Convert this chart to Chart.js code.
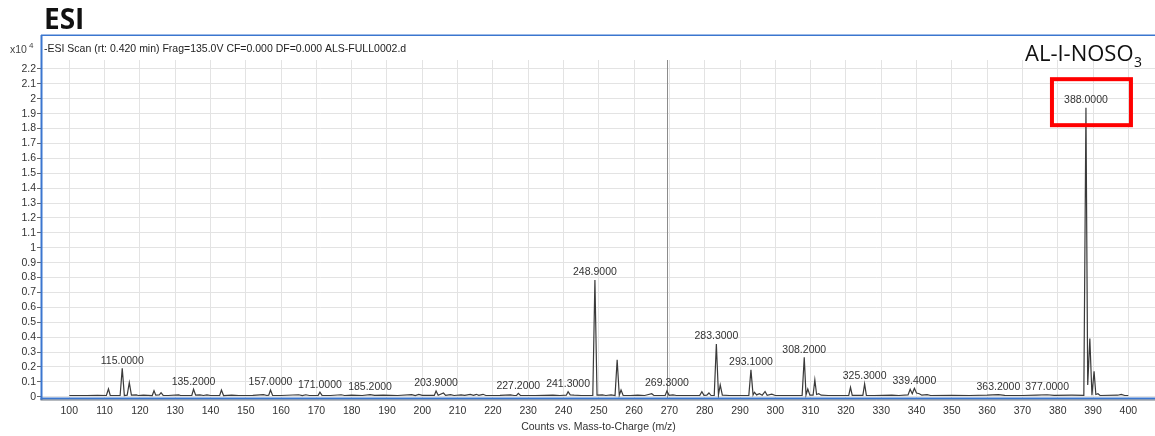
<!DOCTYPE html>
<html>
<head>
<meta charset="utf-8">
<script src="https://cdn.jsdelivr.net/npm/chart.js@4.4.1/dist/chart.umd.min.js"></script>
<style>
  html, body { margin: 0; padding: 0; background: #fff; overflow: hidden; }
  #wrap { width: 1155px; height: 436px; position: relative; }
</style>
</head>
<body>
<div id="wrap"><canvas id="spectrum" width="1155" height="436"></canvas></div>
<script>
// Profile spectrum: m/z positions and abundances (counts, x10^4)
const mzValues = [
  100, 105, 108, 110.5, 111.1, 111.6, 114.4, 115.0, 115.6, 116.4, 117.0, 117.6,
  119, 119.5, 121, 123.5, 124.0, 124.5, 125.5, 126.0, 126.6, 128, 131, 131.5,
  134.7, 135.2, 135.8, 137, 138, 139, 140, 142.6, 143.1, 143.7, 146, 148,
  152, 155, 156, 156.5, 157.0, 157.6, 160, 165, 166, 167, 168, 170.5,
  171.0, 171.6, 174, 177, 178, 180, 183, 185.2, 186.5, 189, 193, 197,
  198, 199, 200, 203.4, 203.9, 204.5, 206, 206.6, 208, 209, 211, 212,
  213.6, 214.5, 215.3, 216, 217.2, 218, 222, 225, 226, 226.7, 227.2, 227.8,
  232, 237, 239, 240.8, 241.3, 241.9, 243, 245, 248.3, 248.9, 249.5, 251,
  252, 253.5, 254.6, 255.2, 255.8, 256.3, 256.9, 259, 261, 263, 265, 265.6,
  268.8, 269.3, 269.9, 271, 272, 275, 278.6, 279.2, 279.8, 280.6, 281.2, 281.8,
  282.7, 283.3, 283.9, 284.4, 285.0, 287, 292.5, 293.1, 293.7, 294.1, 294.7, 295.5,
  296.3, 297.1, 297.7, 299, 300, 304, 307.6, 308.2, 308.7, 309.2, 309.8, 310.7,
  311.2, 311.7, 312.3, 313, 315, 320.8, 321.3, 321.8, 324.8, 325.3, 325.8, 328,
  333, 335, 337.6, 338.2, 338.8, 339.4, 340.0, 340.8, 341.5, 343, 344, 350,
  355, 360, 363.2, 365, 370, 374, 377.0, 379, 384, 387.4, 388.0, 388.5,
  389.1, 389.7, 390.3, 390.8, 391.4, 392, 397, 398, 399, 400
];
const countValues = [
  0.008, 0.008, 0.009, 0.008, 0.052, 0.008, 0.008, 0.190, 0.008, 0.010, 0.095, 0.010,
  0.012, 0.008, 0.010, 0.008, 0.040, 0.010, 0.012, 0.027, 0.009, 0.008, 0.012, 0.008,
  0.008, 0.050, 0.010, 0.012, 0.008, 0.012, 0.008, 0.008, 0.045, 0.008, 0.010, 0.008,
  0.009, 0.014, 0.008, 0.010, 0.045, 0.009, 0.008, 0.013, 0.008, 0.013, 0.008, 0.009,
  0.030, 0.009, 0.008, 0.013, 0.008, 0.010, 0.008, 0.014, 0.009, 0.010, 0.008, 0.014,
  0.008, 0.015, 0.009, 0.009, 0.038, 0.010, 0.025, 0.009, 0.014, 0.008, 0.012, 0.009,
  0.015, 0.009, 0.016, 0.009, 0.016, 0.008, 0.009, 0.012, 0.008, 0.009, 0.023, 0.009,
  0.008, 0.010, 0.008, 0.010, 0.034, 0.012, 0.010, 0.008, 0.008, 0.783, 0.010, 0.012,
  0.008, 0.012, 0.008, 0.248, 0.010, 0.045, 0.009, 0.008, 0.010, 0.008, 0.020, 0.008,
  0.009, 0.038, 0.009, 0.012, 0.008, 0.008, 0.009, 0.034, 0.009, 0.010, 0.025, 0.008,
  0.008, 0.354, 0.012, 0.079, 0.010, 0.008, 0.009, 0.180, 0.012, 0.030, 0.012, 0.020,
  0.010, 0.035, 0.010, 0.017, 0.008, 0.008, 0.009, 0.264, 0.012, 0.052, 0.010, 0.010,
  0.113, 0.015, 0.020, 0.010, 0.008, 0.009, 0.063, 0.009, 0.009, 0.086, 0.009, 0.008,
  0.010, 0.008, 0.012, 0.050, 0.020, 0.057, 0.025, 0.020, 0.010, 0.014, 0.008, 0.009,
  0.008, 0.010, 0.014, 0.009, 0.008, 0.010, 0.013, 0.009, 0.010, 0.009, 1.940, 0.078,
  0.390, 0.010, 0.170, 0.015, 0.020, 0.008, 0.010, 0.016, 0.008, 0.008
];
// Annotated peaks (m/z)
const peakLabelMz = [
  115.0, 135.2, 157.0, 171.0, 185.2, 203.9, 227.2, 241.3, 248.9,
  269.3, 283.3, 293.1, 308.2, 325.3, 339.4, 363.2, 377.0, 388.0
];
const highlightedMz = 388.0;
const cursorMz = 269.3;
const xTickValues = [100, 110, 120, 130, 140, 150, 160, 170, 180, 190, 200, 210, 220, 230, 240, 250,
  260, 270, 280, 290, 300, 310, 320, 330, 340, 350, 360, 370, 380, 390, 400];
const yTickValues = [0, 0.1, 0.2, 0.3, 0.4, 0.5, 0.6, 0.7, 0.8, 0.9, 1, 1.1, 1.2, 1.3, 1.4, 1.5,
  1.6, 1.7, 1.8, 1.9, 2, 2.1, 2.2];

const scanTitle = '-ESI Scan (rt: 0.420 min) Frag=135.0V CF=0.000 DF=0.000 ALS-FULL0002.d';
const panelTitle = 'ESI';
const compoundName = 'AL-I-NOSO';
const compoundSub = '3';
const xAxisTitle = 'Counts vs. Mass-to-Charge (m/z)';

const FONT = '"Liberation Sans", Arial, sans-serif';
const FRAME_BLUE = '#3b76cf';

const points = mzValues.map((mz, i) => ({ x: mz, y: countValues[i] }));

const decorations = {
  id: 'decorations',
  beforeDraw(chart) {
    const ctx = chart.ctx;
    ctx.save();
    ctx.fillStyle = '#ffffff';
    ctx.fillRect(0, 0, chart.width, chart.height);
    ctx.restore();
  },
  beforeDatasetsDraw(chart) {
    const { ctx, chartArea, scales } = chart;
    const cx = Math.round(scales.x.getPixelForValue(cursorMz)) + 0.5;
    ctx.save();
    ctx.strokeStyle = '#8c8c8c';
    ctx.lineWidth = 1;
    ctx.beginPath();
    ctx.moveTo(cx, chartArea.top);
    ctx.lineTo(cx, chartArea.bottom);
    ctx.stroke();
    ctx.restore();
  },
  afterDraw(chart) {
    const { ctx, chartArea, scales } = chart;
    const xs = scales.x, ys = scales.y;
    const W = chart.width;
    ctx.save();

    // frame
    ctx.strokeStyle = FRAME_BLUE;
    ctx.lineWidth = 1.5;
    ctx.beginPath();
    ctx.moveTo(41, 35.25);
    ctx.lineTo(W, 35.25);
    ctx.stroke();
    ctx.lineWidth = 2;
    ctx.beginPath();
    ctx.moveTo(41.5, 35);
    ctx.lineTo(41.5, chartArea.bottom + 2);
    ctx.stroke();
    ctx.beginPath();
    ctx.moveTo(40.5, chartArea.bottom + 0.5);
    ctx.lineTo(W, chartArea.bottom + 0.5);
    ctx.stroke();
    ctx.strokeStyle = '#6f7680';
    ctx.lineWidth = 1;
    ctx.beginPath();
    ctx.moveTo(40.5, chartArea.bottom + 2);
    ctx.lineTo(W, chartArea.bottom + 2);
    ctx.stroke();

    // panel title
    ctx.fillStyle = '#111111';
    ctx.textAlign = 'left';
    ctx.textBaseline = 'alphabetic';
    ctx.font = 'bold 28px "Open Sans", ' + FONT;
    ctx.fillText(panelTitle, 44, 28.5);

    // scan header and exponent
    ctx.fillStyle = '#222222';
    ctx.font = '10.5px ' + FONT;
    ctx.fillText(scanTitle, 44, 52);
    ctx.fillStyle = '#444444';
    ctx.fillText('x10', 10, 53);
    ctx.font = '8px ' + FONT;
    ctx.fillText('4', 29, 47.5);

    // compound name with subscript
    ctx.fillStyle = '#111111';
    ctx.font = '22px "Open Sans", ' + FONT;
    ctx.fillText(compoundName, 1025, 61);
    const nw = ctx.measureText(compoundName).width;
    ctx.font = '14px "Open Sans", ' + FONT;
    ctx.fillText(compoundSub, 1025 + nw + 0.5, 67);

    // peak annotations
    ctx.font = '10.5px ' + FONT;
    ctx.fillStyle = '#333333';
    ctx.textAlign = 'center';
    ctx.textBaseline = 'middle';
    let hx = 0, hy = 0;
    peakLabelMz.forEach(mz => {
      const idx = mzValues.indexOf(mz);
      const px = xs.getPixelForValue(mz);
      const py = ys.getPixelForValue(countValues[idx]) - 7.5;
      ctx.fillText(mz.toFixed(4), px, py);
      if (mz === highlightedMz) { hx = px; hy = py; }
    });

    // highlight box around the base peak label
    ctx.strokeStyle = '#ff0000';
    ctx.lineWidth = 4;
    ctx.strokeRect(hx - 34, hy - 21, 79, 46);

    ctx.restore();
  }
};

new Chart(document.getElementById('spectrum'), {
  type: 'line',
  data: {
    datasets: [{
      data: points,
      borderColor: '#3a3a3a',
      borderWidth: 1.2,
      pointRadius: 0,
      tension: 0,
      fill: false
    }]
  },
  options: {
    responsive: false,
    devicePixelRatio: 1,
    animation: false,
    events: [],
    layout: { padding: { top: 60, left: 0, right: 0, bottom: 0 } },
    plugins: { legend: { display: false }, tooltip: { enabled: false }, title: { display: false } },
    scales: {
      x: {
        type: 'linear',
        min: 92.27,
        max: 407.56,
        afterBuildTicks: s => { s.ticks = xTickValues.map(v => ({ value: v })); },
        afterFit: s => { s.height = 38; },
        ticks: {
          font: { size: 10.5, family: FONT },
          color: '#333333',
          padding: 7,
          maxRotation: 0,
          autoSkip: false,
          callback: v => String(v)
        },
        grid: { color: '#e3e3e3', lineWidth: 1, drawTicks: false },
        border: { display: false },
        title: {
          display: true,
          text: xAxisTitle,
          font: { size: 10.5, family: FONT },
          color: '#333333',
          padding: { top: 0, bottom: 3 }
        }
      },
      y: {
        type: 'linear',
        min: -0.0087,
        max: 2.26,
        afterBuildTicks: s => { s.ticks = yTickValues.map(v => ({ value: v })); },
        afterFit: s => { s.width = 42; },
        ticks: {
          font: { size: 10.5, family: FONT },
          color: '#333333',
          padding: 1,
          autoSkip: false,
          callback: v => String(Math.round(v * 10) / 10)
        },
        grid: { color: '#e3e3e3', lineWidth: 1, drawTicks: true, tickLength: 5, tickColor: '#666666' },
        border: { display: false }
      }
    }
  },
  plugins: [decorations]
});
</script>
</body>
</html>
